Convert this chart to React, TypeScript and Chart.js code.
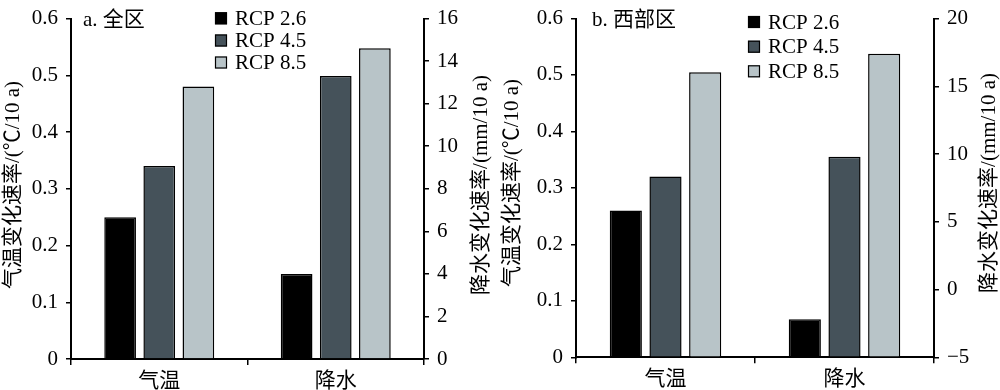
import React, { useEffect, useRef } from 'react';
import { Chart, registerables } from 'chart.js';

Chart.register(...registerables);

// ---------- data ----------
const categories = ['气温', '降水'];
const scenarios = ['RCP 2.6', 'RCP 4.5', 'RCP 8.5'];
const tempA = [0.25, 0.34, 0.48];
const precipA = [4.0, 13.3, 14.6];
const tempB = [0.26, 0.32, 0.505];
const precipB = [-2.2, 9.8, 17.4];
const tempRange = [0, 0.6, 0.1];
const precipRangeA = [0, 16, 2];
const precipRangeB = [-5, 20, 5];
const leftTitle = '气温变化速率/(℃/10 a)';
const rightTitle = '降水变化速率/(mm/10 a)';

// ---------- styles ----------
const colors = ['#000000', '#45525a', '#b8c4c8'];
const FONT = '"Liberation Serif", "Times New Roman", "Noto Sans CJK SC", serif';

type PanelCfg = {
  label: string;
  temp: number[];
  precip: number[];
  pRange: number[];
  left: number;
  right: number;
  top: number;
  xHeight: number;
  legendX: number;
  legendYs: number[];
  legendTextX: number;
  labelX: number;
  labelY: number;
  leftTitleX: number;
  rightTitleX: number;
  titleY: number;
};

const panelA: PanelCfg = {
  label: 'a. 全区', temp: tempA, precip: precipA, pRange: precipRangeA,
  left: 71, right: 76, top: 11, xHeight: 31,
  legendX: 215, legendYs: [18.3, 40.5, 62.5], legendTextX: 235,
  labelX: 83, labelY: 20, leftTitleX: 13, rightTitleX: 481, titleY: 185,
};
const panelB: PanelCfg = {
  label: 'b. 西部区', temp: tempB, precip: precipB, pRange: precipRangeB,
  left: 76, right: 66, top: 11, xHeight: 32.7,
  legendX: 248, legendYs: [22, 46.7, 71.3], legendTextX: 268,
  labelX: 92, labelY: 20, leftTitleX: 12, rightTitleX: 489, titleY: 183,
};

function fmtMinus(v: number) {
  const r = Math.round(v * 100) / 100;
  return r < 0 ? '\u2212' + Math.abs(r) : String(r);
}

function Panel({ cfg }: { cfg: PanelCfg }) {
  const ref = useRef<HTMLCanvasElement | null>(null);
  useEffect(() => {
    if (!ref.current) return;
    const common = {
      borderColor: '#000',
      borderWidth: 1.5,
      skipNull: true,
      categoryPercentage: 0.665,
      barPercentage: 0.81,
    };
    const datasets: any[] = [];
    scenarios.forEach((s, i) => {
      datasets.push({ ...common, label: s, data: [cfg.temp[i], null], yAxisID: 'y', backgroundColor: colors[i] });
    });
    scenarios.forEach((s, i) => {
      datasets.push({ ...common, label: s, data: [null, cfg.precip[i]], yAxisID: 'y1', backgroundColor: colors[i], base: cfg.pRange[0] });
    });

    const overlay = {
      id: 'overlay',
      afterDraw(chart: any) {
        const ctx = chart.ctx;
        ctx.save();
        ctx.fillStyle = '#000';
        ctx.textBaseline = 'middle';
        // panel label
        ctx.font = `21px ${FONT}`;
        ctx.textAlign = 'left';
        ctx.fillText(cfg.label, cfg.labelX, cfg.labelY);
        // legend
        scenarios.forEach((s, i) => {
          const y = cfg.legendYs[i];
          ctx.fillStyle = colors[i];
          ctx.fillRect(cfg.legendX, y - 6, 12, 12);
          ctx.strokeStyle = '#000';
          ctx.lineWidth = 1.2;
          ctx.strokeRect(cfg.legendX + 0.5, y - 5.5, 11, 11);
          ctx.fillStyle = '#000';
          ctx.fillText(s, cfg.legendTextX, y + 1);
        });
        // axis titles
        ctx.textAlign = 'center';
        ctx.font = `21px ${FONT}`;
        ctx.save();
        ctx.translate(cfg.leftTitleX, cfg.titleY);
        ctx.rotate(-Math.PI / 2);
        ctx.fillText(leftTitle, 0, 0);
        ctx.restore();
        ctx.save();
        ctx.translate(cfg.rightTitleX, cfg.titleY);
        ctx.rotate(-Math.PI / 2);
        ctx.fillText(rightTitle, 0, 0);
        ctx.restore();
        ctx.restore();
      },
    };

    const tickFont = { family: FONT, size: 21, lineHeight: 1 };
    const gridCfg = { drawOnChartArea: false, drawTicks: true, tickLength: 5, color: '#000', lineWidth: 1.5 };
    const borderCfg = { display: true, color: '#000', width: 2 };

    const chart = new Chart(ref.current, {
      type: 'bar',
      data: { labels: categories, datasets },
      plugins: [overlay],
      options: {
        animation: false,
        responsive: false,
        devicePixelRatio: 1,
        layout: { padding: { top: cfg.top, left: 0, right: 0, bottom: 0 } },
        plugins: { legend: { display: false }, tooltip: { enabled: false }, title: { display: false } },
        scales: {
          x: {
            stacked: false,
            offset: true,
            grid: { ...gridCfg, offset: true, tickLength: 6 },
            border: borderCfg,
            ticks: { color: '#000', font: tickFont, padding: 6 },
            afterFit: (s: any) => { s.height = cfg.xHeight; },
          },
          y: {
            position: 'left',
            min: tempRange[0],
            max: tempRange[1],
            grid: gridCfg,
            border: borderCfg,
            ticks: { stepSize: tempRange[2], color: '#000', font: tickFont, padding: 8, callback: (v: any) => fmtMinus(Number(v)) },
            afterFit: (s: any) => { s.width = cfg.left; },
          },
          y1: {
            position: 'right',
            min: cfg.pRange[0],
            max: cfg.pRange[1],
            grid: gridCfg,
            border: borderCfg,
            ticks: { stepSize: cfg.pRange[2], color: '#000', font: tickFont, padding: 8, callback: (v: any) => fmtMinus(Number(v)) },
            afterFit: (s: any) => { s.width = cfg.right; },
          },
        },
      } as any,
    });
    return () => chart.destroy();
  }, [cfg]);
  return <canvas ref={ref} width={500} height={390} style={{ display: 'block', width: 500, height: 390 }} />;
}

export default function App() {
  return (
    <div style={{ position: 'absolute', left: 0, top: 0, width: 1000, height: 390, display: 'flex', background: '#fff' }}>
      <Panel cfg={panelA} />
      <Panel cfg={panelB} />
    </div>
  );
}
